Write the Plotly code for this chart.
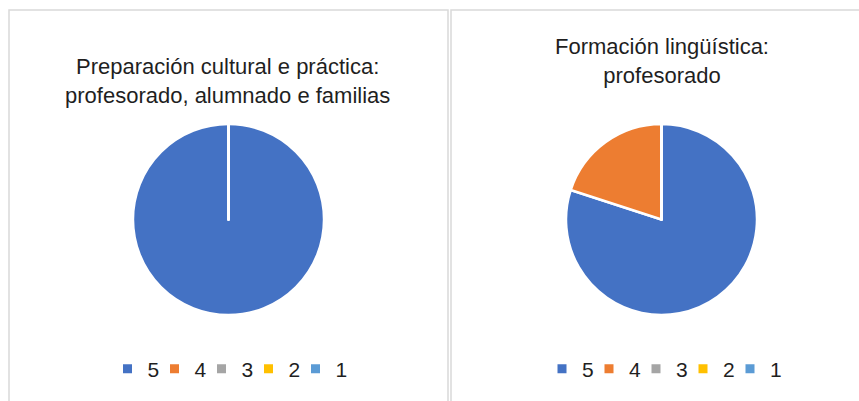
import plotly.graph_objects as go

W, H = 859, 401

categories = ["5", "4", "3", "2", "1"]
colors = ["#4472C4", "#ED7D31", "#A5A5A5", "#FFC000", "#5B9BD5"]

left_title = "Preparación cultural e práctica:<br>profesorado, alumnado e familias"
left_values = [100, 0, 0, 0, 0]

right_title = "Formación lingüística:<br>profesorado"
right_values = [80, 20, 0, 0, 0]

FONT = "Liberation Sans, Arial, sans-serif"
TXT = "#1f1f1f"

def px_x(v):
    return v / W

def px_y(v):
    return 1 - v / H

fig = go.Figure()

# pies
R = 95.5
centers = [(228.5, 219.5), (661.5, 219.5)]
for (cx, cy), vals in zip(centers, [left_values, right_values]):
    fig.add_trace(go.Pie(
        labels=categories, values=vals, sort=False, direction="clockwise",
        rotation=0, textinfo="none", hoverinfo="label+percent",
        marker=dict(colors=colors, line=dict(color="white", width=2.5)),
        showlegend=False,
        domain=dict(x=[px_x(cx - R), px_x(cx + R)], y=[px_y(cy + R), px_y(cy - R)]),
    ))

# white slice border on the full single-slice pie (from centre to 12 o'clock)
lcx, lcy = centers[0]
fig.add_shape(type="line", xref="paper", yref="paper",
              x0=px_x(lcx), x1=px_x(lcx), y0=px_y(lcy), y1=px_y(lcy - R - 1),
              line=dict(color="white", width=3), layer="above")

# legend entries (+ an empty spacer entry so the last label isn't clipped)
for lg in ["legend", "legend2"]:
    for c, col in zip(categories, colors):
        fig.add_trace(go.Scatter(
            x=[None], y=[None], mode="markers", name=c, legend=lg,
            marker=dict(symbol="square", size=9, color=col),
            showlegend=True, hoverinfo="skip",
        ))
    fig.add_trace(go.Scatter(
        x=[None], y=[None], mode="markers", name=" ", legend=lg,
        marker=dict(symbol="square", size=9, color="rgba(0,0,0,0)"),
        showlegend=True, hoverinfo="skip",
    ))

legend_common = dict(
    orientation="h", xanchor="center", yanchor="middle",
    font=dict(family=FONT, size=21, color=TXT),
    bgcolor="rgba(0,0,0,0)", itemwidth=30,
    entrywidth=2, entrywidthmode="pixels",
    traceorder="normal", tracegroupgap=0, itemclick=False, itemdoubleclick=False,
)

fig.update_layout(
    width=W, height=H,
    margin=dict(l=0, r=0, t=0, b=0),
    paper_bgcolor="white", plot_bgcolor="white",
    xaxis=dict(visible=False, domain=[0, 0.01]),
    yaxis=dict(visible=False, domain=[0, 0.01]),
    legend=dict(x=px_x(248.5), y=px_y(369), **legend_common),
    legend2=dict(x=px_x(683), y=px_y(369), **legend_common),
    showlegend=True,
)

# panel borders
fig.add_shape(type="rect", xref="paper", yref="paper",
              x0=px_x(9), x1=px_x(448), y0=px_y(H + 5), y1=px_y(10),
              line=dict(color="#D9D9D9", width=1.5), fillcolor="rgba(0,0,0,0)", layer="below")
fig.add_shape(type="rect", xref="paper", yref="paper",
              x0=px_x(451), x1=px_x(W + 5), y0=px_y(H + 5), y1=px_y(10),
              line=dict(color="#D9D9D9", width=1.5), fillcolor="rgba(0,0,0,0)", layer="below")

# titles
fig.add_annotation(text=left_title, xref="paper", yref="paper",
                   x=px_x(227), y=px_y(80.5), xanchor="center", yanchor="middle",
                   showarrow=False, font=dict(family=FONT, size=22, color=TXT))
fig.add_annotation(text=right_title, xref="paper", yref="paper",
                   x=px_x(662), y=px_y(61), xanchor="center", yanchor="middle",
                   showarrow=False, font=dict(family=FONT, size=22, color=TXT))

fig.write_html(
    "out.html",
    config={"displayModeBar": False},
    post_script="document.body.style.margin='0';document.body.style.overflow='hidden';",
)
